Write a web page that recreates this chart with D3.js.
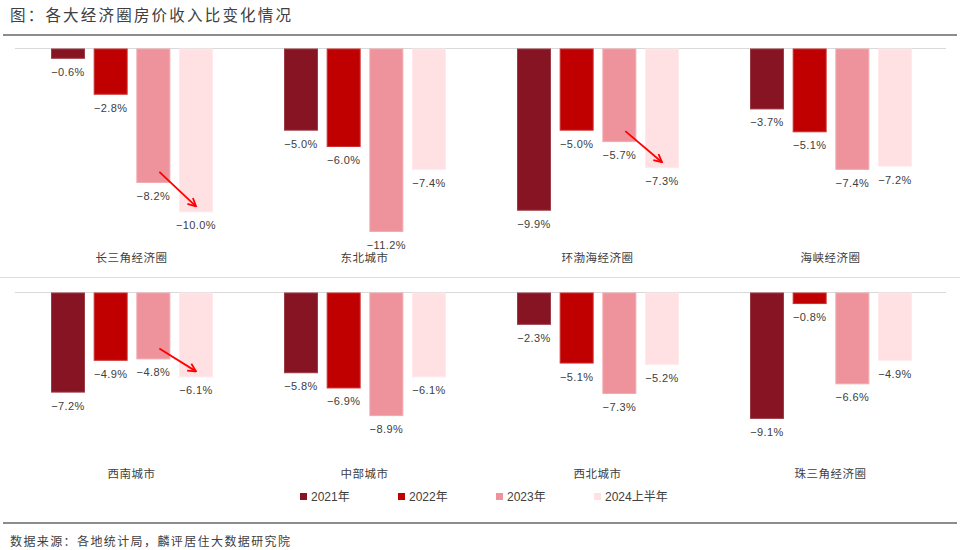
<!DOCTYPE html>
<html><head><meta charset="utf-8">
<script src="https://cdn.jsdelivr.net/npm/d3@7"></script>
<style>body{margin:0;background:#fff}</style>
</head><body><svg id="c" width="960" height="550"></svg>
<script>
const title = "图：各大经济圈房价收入比变化情况";
const source = "数据来源：各地统计局，麟评居住大数据研究院";
const regionsTop = ["长三角经济圈", "东北城市", "环渤海经济圈", "海峡经济圈"];
const regionsBottom = ["西南城市", "中部城市", "西北城市", "珠三角经济圈"];
const years = ["2021年", "2022年", "2023年", "2024上半年"];
const v2021 = [-0.6, -5.0, -9.9, -3.7, -7.2, -5.8, -2.3, -9.1];
const v2022 = [-2.8, -6.0, -5.0, -5.1, -4.9, -6.9, -5.1, -0.8];
const v2023 = [-8.2, -11.2, -5.7, -7.4, -4.8, -8.9, -7.3, -6.6];
const v2024 = [-10.0, -7.4, -7.3, -7.2, -6.1, -6.1, -5.2, -4.9];
const colors = ["#861423", "#C00000", "#EE939B", "#FFE1E4"];
const strokes = ["#9a3a44", "#cc3030", "#f2a9af", "#ffe9eb"];
const arrowRegions = ["长三角经济圈", "环渤海经济圈", "西南城市"];

const regions = regionsTop.concat(regionsBottom);
const series = [v2021, v2022, v2023, v2024];
const svg = d3.select("#c");

// title & frame lines
svg.append("text").attr("x", 10).attr("y", 21).text(title)
  .attr("font-family", "Noto Sans CJK SC").attr("font-size", 15.5)
  .attr("letter-spacing", 2.2).attr("fill", "#404040");
svg.append("line").attr("x1", 3).attr("x2", 957).attr("y1", 35).attr("y2", 35)
  .attr("stroke", "#8c8c8c").attr("stroke-width", 2);
svg.append("line").attr("x1", 3).attr("x2", 957).attr("y1", 523).attr("y2", 523)
  .attr("stroke", "#8c8c8c").attr("stroke-width", 2);
svg.append("line").attr("x1", 0).attr("x2", 960).attr("y1", 277.5).attr("y2", 277.5)
  .attr("stroke", "#dedede").attr("stroke-width", 1);
svg.append("text").attr("x", 10).attr("y", 546).text(source)
  .attr("font-family", "Noto Sans CJK SC").attr("font-size", 12)
  .attr("letter-spacing", 1.4).attr("fill", "#404040");

const defs = svg.append("defs");
defs.append("marker").attr("id", "arr").attr("viewBox", "0 0 10 10")
  .attr("refX", 9).attr("refY", 5).attr("markerWidth", 10).attr("markerHeight", 10)
  .attr("markerUnits", "userSpaceOnUse").attr("orient", "auto")
  .append("path").attr("d", "M1,1 L9,5 L1,9").attr("fill", "none")
  .attr("stroke", "#ff0000").attr("stroke-width", 1.8);

const rows = [
  {names: regionsTop, y0: 49, h: 196, labelY: 262},
  {names: regionsBottom, y0: 293, h: 166, labelY: 478}
];
const px = d3.scaleBand().domain(d3.range(4)).range([15, 947]);
const bx = d3.scaleBand().domain(years).range([36, 198]).paddingInner(0.204);
const fmt = d => d3.format(".1f")(d).replace("-", "−") + "%";

rows.forEach((row, ri) => {
  const y = d3.scaleLinear().domain([0, -12]).range([row.y0, row.y0 + row.h]);
  const g = svg.append("g");
  g.append("line").attr("x1", 15).attr("x2", 946)
    .attr("y1", y(0) - 0.5).attr("y2", y(0) - 0.5)
    .attr("stroke", "#d9d9d9").attr("stroke-width", 1);
  row.names.forEach((name, pi) => {
    const idx = regions.indexOf(name);
    const pg = g.append("g").attr("transform", `translate(${px(pi)},0)`);
    const data = years.map((yr, k) => ({yr, k, v: series[k][idx]}));
    pg.selectAll("rect").data(data).join("rect")
      .attr("x", d => bx(d.yr) + 0.5).attr("width", bx.bandwidth() - 1)
      .attr("y", y(0)).attr("height", d => y(d.v) - y(0) - 0.5)
      .attr("fill", d => colors[d.k]).attr("stroke", d => strokes[d.k]).attr("stroke-width", 1);
    pg.selectAll("text.val").data(data).join("text").attr("class", "val")
      .attr("x", d => bx(d.yr) + bx.bandwidth() / 2).attr("y", d => y(d.v) + 17)
      .attr("text-anchor", "middle").text(d => fmt(d.v))
      .attr("font-family", "Liberation Sans, Arial").attr("font-size", 11)
      .attr("letter-spacing", 0.4).attr("fill", "#404040");
    pg.append("text").attr("x", px.bandwidth() / 2).attr("y", row.labelY)
      .attr("text-anchor", "middle").text(name)
      .attr("font-family", "Noto Sans CJK SC").attr("font-size", 11.5)
      .attr("letter-spacing", 0.5).attr("fill", "#404040");
    if (arrowRegions.includes(name)) {
      const a = data[2], b = data[3];
      pg.append("line")
        .attr("x1", bx(a.yr) + bx.bandwidth() / 2 + 6).attr("y1", y(a.v) - 11)
        .attr("x2", bx(b.yr) + bx.bandwidth() / 2).attr("y2", y(b.v) - 6)
        .attr("stroke", "#ff0000").attr("stroke-width", 1.8)
        .attr("marker-end", "url(#arr)");
    }
  });
});

// legend
const lx = d3.scalePoint().domain(years).range([300, 594]);
const lg = svg.append("g").selectAll("g").data(years).join("g")
  .attr("transform", d => `translate(${lx(d)},497)`);
lg.append("rect").attr("x", 0).attr("y", -4).attr("width", 7).attr("height", 7)
  .attr("fill", (d, i) => colors[i]);
lg.append("text").attr("x", 11).attr("y", 4).text(d => d)
  .attr("font-family", "Liberation Sans, Noto Sans CJK SC").attr("font-size", 12)
  .attr("fill", "#404040");
</script></body></html>
